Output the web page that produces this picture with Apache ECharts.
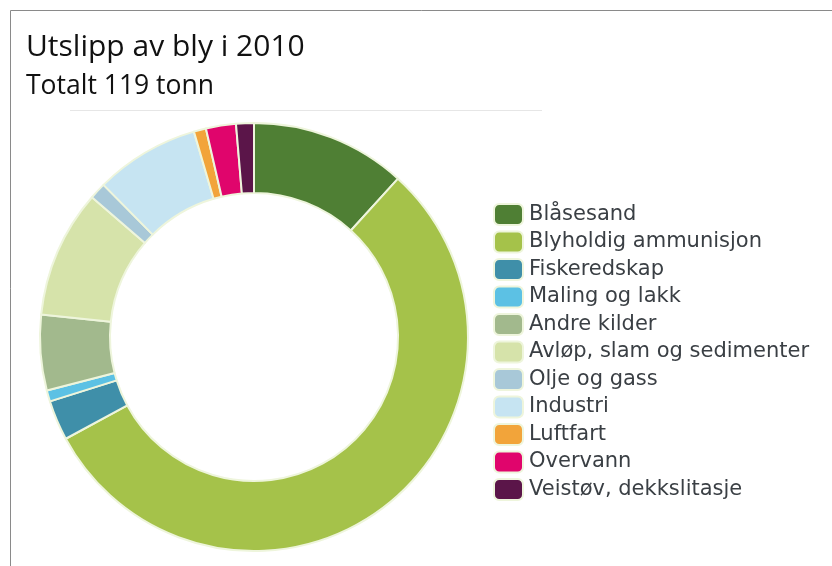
<!DOCTYPE html>
<html>
<head>
<meta charset="utf-8">
<script src="https://cdn.jsdelivr.net/npm/echarts@6/dist/echarts.min.js"></script>
<style>
  html, body { margin: 0; padding: 0; background: #fff; }
  #main { width: 832px; height: 566px; }
</style>
</head>
<body>
<div id="main"></div>
<script>
// kilder og tonn bly, 2010
var categories = [
  'Blåsesand',
  'Blyholdig ammunisjon',
  'Fiskeredskap',
  'Maling og lakk',
  'Andre kilder',
  'Avløp, slam og sedimenter',
  'Olje og gass',
  'Industri',
  'Luftfart',
  'Overvann',
  'Veistøv, dekkslitasje'
];
var values = [14, 66, 3.6, 1, 6.8, 11.5, 1.5, 9.4, 1.1, 2.7, 1.6];
var colors = ['#4f7f34', '#a5c24a', '#3f8fa9', '#5cc1e4', '#a2b98d', '#d6e3aa',
              '#a8c8d8', '#c6e4f2', '#f2a43a', '#e0056c', '#5b1549'];

var chart = echarts.init(document.getElementById('main'));

var data = categories.map(function (name, i) {
  return { name: name, value: values[i], itemStyle: { color: colors[i] } };
});

var option = {
  animation: false,
  title: [
    {
      text: 'Utslipp av bly i 2010',
      left: 26, top: 32, padding: 0,
      textStyle: { fontFamily: 'Open Sans', fontSize: 30, fontWeight: 'normal', color: '#111' }
    },
    {
      text: 'Totalt 119 tonn',
      left: 26, top: 73, padding: 0,
      textStyle: { fontFamily: 'Open Sans', fontSize: 26.5, fontWeight: 'normal', color: '#111' }
    }
  ],
  legend: {
    orient: 'vertical',
    left: 493,
    top: 203,
    padding: 0,
    icon: 'roundRect',
    itemWidth: 29,
    itemHeight: 21,
    itemGap: 4.5,
    selectedMode: false,
    textStyle: {
      fontFamily: 'Verdana, DejaVu Sans',
      fontSize: 21, lineHeight: 21, height: 21, color: '#3a3f44', padding: [0, 0, 0, 1]
    },
    data: categories
  },
  graphic: [
    {
      type: 'rect',
      shape: { x: 10.5, y: 10.5, width: 900, height: 700 },
      style: { fill: 'none', stroke: '#8a8a8a', lineWidth: 1 },
      silent: true
    },
    {
      type: 'line',
      shape: { x1: 70, y1: 110.5, x2: 542, y2: 110.5 },
      style: { stroke: '#e6e6e6', lineWidth: 1 },
      silent: true
    }
  ],
  series: [
    {
      type: 'pie',
      center: [254, 337],
      radius: [144, 214],
      startAngle: 90,
      clockwise: true,
      label: { show: false },
      labelLine: { show: false },
      itemStyle: { borderColor: '#eef5dc', borderWidth: 2 },
      data: data
    }
  ]
};

chart.setOption(option);
</script>
</body>
</html>
